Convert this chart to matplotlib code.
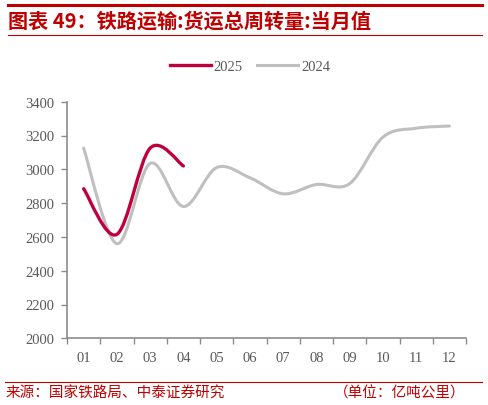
import matplotlib
matplotlib.use("Agg")
import matplotlib.pyplot as plt
from matplotlib.path import Path
from matplotlib.patches import PathPatch
from matplotlib.lines import Line2D
import numpy as np

plt.rcParams["font.family"] = ["Noto Sans CJK SC", "DejaVu Sans"]

MONTHS = ["01", "02", "03", "04", "05", "06", "07", "08", "09", "10", "11", "12"]
Y2024 = [3125, 2560, 3035, 2780, 3010, 2950, 2855, 2910, 2915, 3190, 3243, 3256]
Y2025 = [2885, 2615, 3125, 3020]
YTICKS = [2000, 2200, 2400, 2600, 2800, 3000, 3200, 3400]

RED = "#C0003C"
GRAY = "#BFBFBF"
TITLE_RED = "#C00000"
TICK_COLOR = "#595959"


def smooth_path(xs, ys):
    # Excel-like smoothed line: cubic Bezier with Catmull-Rom style handles
    pts = np.column_stack([xs, ys]).astype(float)
    n = len(pts)
    verts = [pts[0]]
    codes = [Path.MOVETO]
    for i in range(n - 1):
        p0 = pts[i - 1] if i > 0 else pts[i]
        p1 = pts[i]
        p2 = pts[i + 1]
        p3 = pts[i + 2] if i + 2 < n else pts[i + 1]
        c1 = p1 + (p2 - p0) / 6.0
        c2 = p2 - (p3 - p1) / 6.0
        verts += [c1, c2, p2]
        codes += [Path.CURVE4] * 3
    return Path(verts, codes)


fig = plt.figure(figsize=(4.88, 4.06), dpi=100)
ax = fig.add_axes([67 / 488, 1 - 339.3 / 406, (466 - 67) / 488, (339.3 - 102.7) / 406])

x24 = np.arange(1, len(Y2024) + 1)
x25 = np.arange(1, len(Y2025) + 1)
ax.add_patch(PathPatch(smooth_path(x24, Y2024), facecolor="none", edgecolor=GRAY,
                       lw=2.2, capstyle="round", zorder=2))
ax.add_patch(PathPatch(smooth_path(x25, Y2025), facecolor="none", edgecolor=RED,
                       lw=2.4, capstyle="round", zorder=3))

ax.set_xlim(0.5, 12.5)
ax.set_ylim(2000, 3400)
ax.set_yticks(YTICKS)
ax.set_yticklabels([str(v) for v in YTICKS], family="Liberation Serif", fontsize=10.5, color=TICK_COLOR)
ax.set_xticks(x24)
ax.set_xticklabels(MONTHS, family="Liberation Serif", fontsize=10.5, color=TICK_COLOR)
ax.set_xticks(np.arange(0.5, 13, 1), minor=True)
ax.tick_params(axis="x", which="major", length=0, pad=9)
ax.tick_params(axis="x", which="minor", length=4, width=1, color="#8C8C8C", direction="out")
ax.tick_params(axis="y", length=4, width=1, color="#8C8C8C", direction="out", pad=5)
for side in ["top", "right"]:
    ax.spines[side].set_visible(False)
for side in ["left", "bottom"]:
    ax.spines[side].set_color("#8C8C8C")
    ax.spines[side].set_linewidth(1.2)

handles = [Line2D([], [], color=RED, lw=2.4), Line2D([], [], color=GRAY, lw=2.2)]
fig.legend(handles, ["2025", "2024"], loc="center", bbox_to_anchor=(250 / 488, 1 - 67 / 406),
           ncol=2, frameon=False, handlelength=2.8, handletextpad=0.2, columnspacing=1.0,
           prop={"family": "Liberation Serif", "size": 10.5}, labelcolor=TICK_COLOR)

# header / footer rules
fig.add_artist(Line2D([8 / 488, 482 / 488], [1 - 6 / 406] * 2, color=TITLE_RED, lw=2.2))
fig.add_artist(Line2D([8 / 488, 482 / 488], [1 - 36 / 406] * 2, color=TITLE_RED, lw=0.8))
fig.add_artist(Line2D([5 / 488, 482 / 488], [1 - 383 / 406] * 2, color=TITLE_RED, lw=0.8))

fig.text(8 / 488, 1 - 21 / 406, "图表 49：铁路运输:货运总周转量:当月值", color=TITLE_RED,
         fontsize=14.5, fontweight="bold", va="center", ha="left")
fig.text(6 / 488, 1 - 394 / 406, "来源：国家铁路局、中泰证券研究", color=TITLE_RED,
         fontsize=10.5, va="center", ha="left")
fig.text(466 / 488, 1 - 394 / 406, "（单位：亿吨公里）", color=TITLE_RED,
         fontsize=10.5, va="center", ha="right")

fig.savefig("out.png", dpi=100)
